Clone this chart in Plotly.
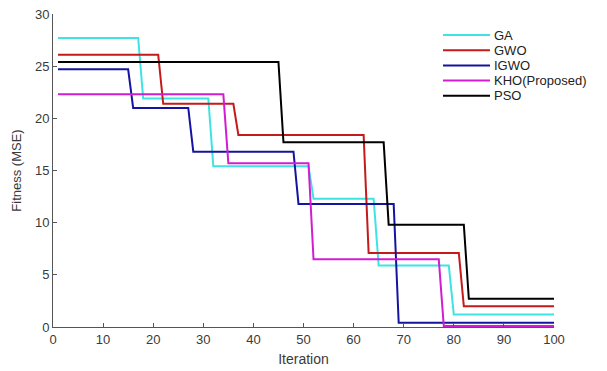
import plotly.graph_objects as go

# Step-curve breakpoints (iteration, fitness MSE)
GA_x = [1, 17, 18, 31, 32, 51, 52, 64, 65, 79, 80, 100]
GA_y = [27.7, 27.7, 21.9, 21.9, 15.4, 15.4, 12.3, 12.3, 5.9, 5.9, 1.2, 1.2]

GWO_x = [1, 21, 22, 36, 37, 62, 63, 81, 82, 100]
GWO_y = [26.1, 26.1, 21.4, 21.4, 18.4, 18.4, 7.1, 7.1, 2.0, 2.0]

IGWO_x = [1, 15, 16, 27, 28, 48, 49, 68, 69, 100]
IGWO_y = [24.7, 24.7, 21.0, 21.0, 16.8, 16.8, 11.8, 11.8, 0.4, 0.4]

KHO_x = [1, 34, 35, 51, 52, 77, 78, 100]
KHO_y = [22.3, 22.3, 15.7, 15.7, 6.5, 6.5, 0.1, 0.1]

PSO_x = [1, 45, 46, 66, 67, 82, 83, 100]
PSO_y = [25.4, 25.4, 17.7, 17.7, 9.8, 9.8, 2.7, 2.7]

series = [
    ("GA", GA_x, GA_y, "#3FE3E3"),
    ("GWO", GWO_x, GWO_y, "#C41A1A"),
    ("IGWO", IGWO_x, IGWO_y, "#1414A0"),
    ("KHO(Proposed)", KHO_x, KHO_y, "#D21CD2"),
    ("PSO", PSO_x, PSO_y, "#000000"),
]

x_ticks = [0, 10, 20, 30, 40, 50, 60, 70, 80, 90, 100]
y_ticks = [0, 5, 10, 15, 20, 25, 30]

W, H = 607, 371
ML, MR, MT, MB = 53, 53, 14, 44
PW, PH = W - ML - MR, H - MT - MB

fig = go.Figure()
for name, xs, ys, col in series:
    fig.add_trace(go.Scatter(x=xs, y=ys, mode="lines", name=name,
                             line=dict(color=col, width=2), showlegend=False))

# Legend drawn as line samples + labels in the upper right
shapes, annots = [], []
row0, step = 35, 15.2
for i, (name, _, _, col) in enumerate(series):
    py = row0 + i * step
    yp = (H - MB - py) / PH
    shapes.append(dict(type="line", xref="paper", yref="paper",
                       x0=(443 - ML) / PW, x1=(490 - ML) / PW, y0=yp, y1=yp,
                       line=dict(color=col, width=2)))
    annots.append(dict(xref="paper", yref="paper", x=(492 - ML) / PW, y=yp,
                       xanchor="left", yanchor="middle", text=name, showarrow=False,
                       font=dict(size=13, color="#222")))

font = dict(family="Liberation Sans, Arial, sans-serif", size=13, color="#3a3a3a")
fig.update_layout(
    width=W, height=H,
    margin=dict(l=ML, r=MR, t=MT, b=MB),
    paper_bgcolor="white", plot_bgcolor="white",
    font=font,
    showlegend=False,
    shapes=shapes, annotations=annots,
    xaxis=dict(range=[0, 100], tickvals=x_ticks, ticks="inside", ticklen=4,
               showline=True, linecolor="#555", linewidth=1, tickcolor="#555",
               showgrid=False, zeroline=False, mirror=False, automargin=False,
               ticklabeloverflow="allow",
               title=dict(text="Iteration", standoff=8, font=dict(size=14))),
    yaxis=dict(range=[0, 30], tickvals=y_ticks, ticks="inside", ticklen=4,
               showline=True, linecolor="#555", linewidth=1, tickcolor="#555",
               showgrid=False, zeroline=False, mirror=False, automargin=False,
               ticklabeloverflow="allow",
               title=dict(text="Fitness (MSE)", standoff=10, font=dict(size=13))),
)
fig.write_html("out.html", config={"displayModeBar": False},
               post_script="document.body.style.margin='0';")
